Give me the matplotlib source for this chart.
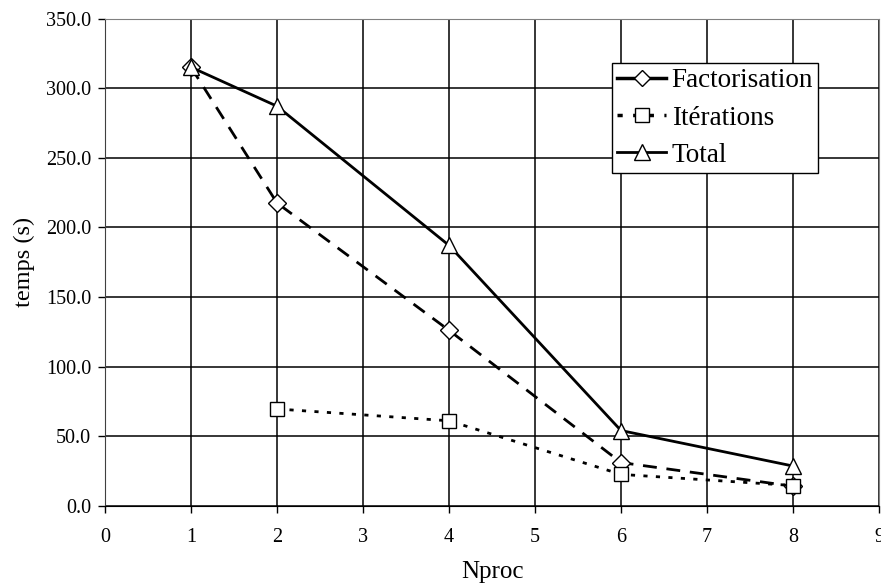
import matplotlib
matplotlib.use("Agg")
import matplotlib.pyplot as plt
from matplotlib.lines import Line2D
import numpy as np

# Execution time versus number of processors
nproc = [1, 2, 4, 6, 8]
factorisation = [315.0, 217.5, 126.0, 31.0, 14.0]
iterations = [np.nan, 69.5, 61.0, 22.5, 14.5]
total = [315.0, 287.0, 187.0, 54.0, 28.5]

series_names = ["Factorisation", "Itérations", "Total"]
x_ticks = list(range(0, 10))
y_ticks = [0, 50, 100, 150, 200, 250, 300, 350]

plt.rcParams["font.family"] = ["Liberation Serif", "DejaVu Serif"]

fig = plt.figure(figsize=(8.81, 5.83), dpi=100)
ax = fig.add_axes([105 / 881, 1 - 505.7 / 583, 774 / 881, 487.2 / 583])

ax.set_xlim(0, 9)
ax.set_ylim(0, 350)
ax.set_xticks(x_ticks)
ax.set_yticks(y_ticks)
ax.set_yticklabels([f"{v:.1f}" for v in y_ticks])
ax.grid(True, color="black", linewidth=1.1)
ax.set_axisbelow(True)

ax.tick_params(direction="out", length=5, width=1, labelsize=14.5)
ax.tick_params(axis="x", pad=11)
ax.tick_params(axis="y", pad=5)
for side in ("top", "right"):
    ax.spines[side].set_color("#808080")
ax.spines["left"].set_color("#404040")
ax.spines["bottom"].set_color("black")

mk = dict(markerfacecolor="white", markeredgecolor="black",
          markeredgewidth=1.0, color="black", linewidth=2.0)

ax.plot(nproc, factorisation, linestyle=(0, (5, 3.5)), marker="D",
        markersize=9, **mk)
ax.plot(nproc, iterations, linestyle=(0, (1.5, 3)), marker="s",
        markersize=10, **mk)
ax.plot(nproc, total, linestyle="-", marker="^", markersize=11, **mk)

ax.set_xlabel("Nproc", fontsize=18, labelpad=10)
ax.set_ylabel("temps (s)", fontsize=17.5, labelpad=8)

handles = [
    Line2D([], [], color="black", linewidth=2.5, linestyle="-", marker="D",
           markersize=8, markerfacecolor="white", markeredgecolor="black"),
    Line2D([], [], color="black", linewidth=2.5, linestyle=(0, (1.5, 3)), marker="s",
           markersize=10, markerfacecolor="white", markeredgecolor="black"),
    Line2D([], [], color="black", linewidth=2.0, linestyle="-", marker="^",
           markersize=11, markerfacecolor="white", markeredgecolor="black"),
]
leg = ax.legend(handles, series_names, loc="upper left",
                bbox_to_anchor=((612 - 105) / 774, (505.7 - 63) / 487.2),
                fontsize=19.5, frameon=True, fancybox=False, framealpha=1,
                edgecolor="black", handlelength=1.78, handletextpad=0.22,
                borderpad=0.2, labelspacing=0.45, borderaxespad=0)
leg.get_frame().set_linewidth(1.0)

fig.savefig("out.png", dpi=100)
